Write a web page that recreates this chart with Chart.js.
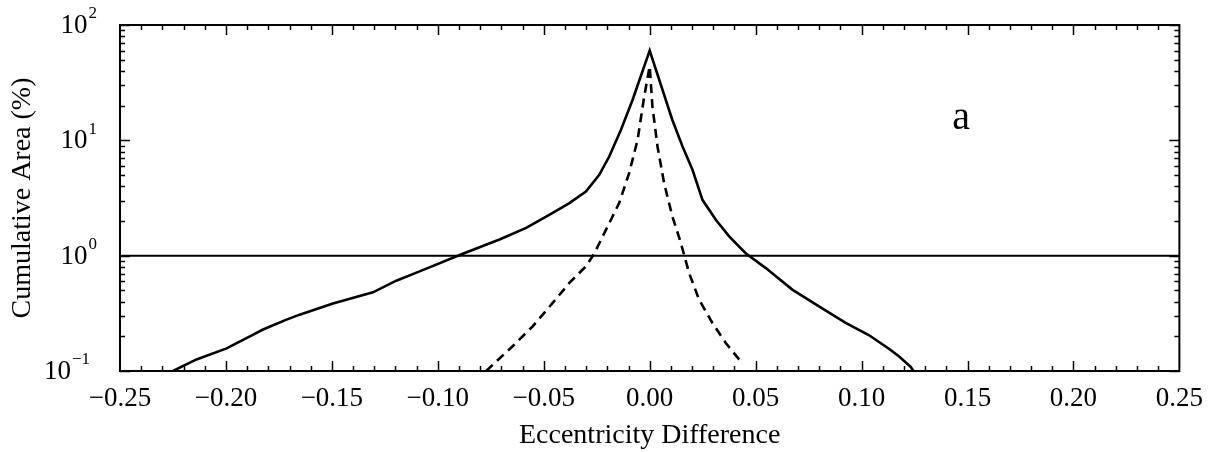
<!DOCTYPE html>
<html>
<head>
<meta charset="utf-8">
<script src="https://cdn.jsdelivr.net/npm/chart.js@4.4.1/dist/chart.umd.min.js"></script>
<style>
    html, body { margin: 0; padding: 0; background: #fff; }
    #box { width: 1215px; height: 452px; }
</style>
</head>
<body>
<div id="box"><canvas id="grafico"></canvas></div>
<script>
// #region Dados

// curva cheia
var eccSolid = [-0.2250, -0.2139, -0.1997, -0.1887, -0.1825, -0.1714, -0.1652, -0.1495, -0.1306, -0.1196, -0.1086,
    -0.0882, -0.0709, -0.0583, -0.0474, -0.0379, -0.0301, -0.0238, -0.0191, -0.0136, -0.0081, 0.0000,
    0.0107, 0.0155, 0.0202, 0.0249, 0.0312, 0.0375, 0.0453, 0.0548, 0.0673, 0.0799, 0.0925,
    0.1034, 0.1129, 0.1176, 0.1231, 0.1245];
var areaSolid = [0.100, 0.126, 0.157, 0.200, 0.229, 0.279, 0.308, 0.384, 0.481, 0.607, 0.731,
    1.04, 1.38, 1.74, 2.26, 2.86, 3.60, 5.03, 7.24, 12.3, 22.4, 60.0,
    15.0, 8.84, 5.55, 3.05, 2.05, 1.47, 1.05, 0.78, 0.508, 0.364, 0.261,
    0.205, 0.156, 0.134, 0.109, 0.100];

// curva tracejada
var eccDashed = [-0.0772, -0.0647, -0.0552, -0.0458, -0.0379, -0.0301, -0.0262, -0.0206, -0.0144, -0.0097, -0.0057, -0.0026, 0.0000,
    0.0013, 0.0037, 0.0068, 0.0107, 0.0147, 0.0186, 0.0233, 0.0296, 0.0359, 0.0422, 0.0440];
var areaDashed = [0.100, 0.164, 0.244, 0.389, 0.580, 0.809, 1.04, 1.68, 2.86, 5.20, 10.1, 23.9, 44.0,
    19.6, 8.84, 4.26, 2.19, 1.29, 0.708, 0.416, 0.261, 0.175, 0.126, 0.118];

// linha de referencia em 1%
var eccRef = [-0.25, 0.25];
var areaRef = [1, 1];

var yDecadas = [0.1, 1, 10, 100];
var yExpoentes = ['\u22121', '0', '1', '2'];

var rotuloPainel = 'a';
var rotuloPainelX = 0.147;
var rotuloPainelY = 15.6;

// #endregion Dados

var FONTE = '"Liberation Serif", "Times New Roman", serif';

function pares(xs, ys) {
    return xs.map(function (x, i) { return { x: x, y: ys[i] }; });
}

function formatarX(v) {
    var s = Math.abs(v).toFixed(2);
    return (v < -1e-9 ? '\u2212' : '') + s;
}

var pluginEixos = {
    id: 'eixos',
    beforeDraw: function (chart) {
        var ctx = chart.ctx;
        ctx.save();
        ctx.fillStyle = '#fff';
        ctx.fillRect(0, 0, chart.width, chart.height);
        ctx.restore();
    },
    afterDraw: function (chart) {
        var ctx = chart.ctx, a = chart.chartArea;
        var sx = chart.scales.x, sy = chart.scales.y;
        ctx.save();
        ctx.strokeStyle = '#000';

        // marcas do eixo x (para dentro, embaixo e em cima)
        ctx.lineWidth = 1.5;
        ctx.beginPath();
        for (var i = -24; i <= 24; i++) {
            var px = Math.round(sx.getPixelForValue(i / 100)) + 0.5;
            var len = (i % 5 === 0) ? 10 : 5;
            ctx.moveTo(px, a.bottom); ctx.lineTo(px, a.bottom - len);
            ctx.moveTo(px, a.top); ctx.lineTo(px, a.top + len);
        }
        // marcas do eixo y (log)
        for (var d = 0; d < yDecadas.length; d++) {
            for (var k = 1; k <= 9; k++) {
                var v = yDecadas[d] * k;
                if (v > 100.0001) break;
                var py = Math.round(sy.getPixelForValue(v)) + 0.5;
                var l = (k === 1) ? 10 : 5;
                ctx.moveTo(a.left, py); ctx.lineTo(a.left + l, py);
                ctx.moveTo(a.right, py); ctx.lineTo(a.right - l, py);
            }
        }
        ctx.stroke();

        // moldura
        ctx.lineWidth = 2;
        ctx.strokeRect(a.left, a.top, a.right - a.left, a.bottom - a.top);

        // rotulos do eixo y com expoente
        ctx.fillStyle = '#000';
        ctx.textBaseline = 'middle';
        for (var j = 0; j < yDecadas.length; j++) {
            var yy = sy.getPixelForValue(yDecadas[j]);
            ctx.font = '17px ' + FONTE;
            var ew = ctx.measureText(yExpoentes[j]).width;
            var xr = (j === 0) ? 90 : 97;
            ctx.textAlign = 'left';
            ctx.fillText(yExpoentes[j], xr - ew, yy - 11);
            ctx.font = '27px ' + FONTE;
            ctx.textAlign = 'right';
            ctx.fillText('10', xr - ew - 1, yy + 1);
        }

        // rotulo do painel
        ctx.font = '40px ' + FONTE;
        ctx.textAlign = 'center';
        ctx.fillText(rotuloPainel, sx.getPixelForValue(rotuloPainelX), sy.getPixelForValue(rotuloPainelY));
        ctx.restore();
    }
};

function loadGrafico() {
    var ctx = document.getElementById('grafico');
    return new Chart(ctx, {
        type: 'scatter',
        data: {
            datasets: [
                {
                    data: pares(eccRef, areaRef),
                    showLine: true, borderColor: '#000', borderWidth: 2,
                    pointRadius: 0, tension: 0
                },
                {
                    data: pares(eccSolid, areaSolid),
                    showLine: true, borderColor: '#000', borderWidth: 2.6,
                    pointRadius: 0, tension: 0
                },
                {
                    data: pares(eccDashed, areaDashed),
                    showLine: true, borderColor: '#000', borderWidth: 2.6,
                    borderDash: [9, 6], pointRadius: 0, tension: 0
                }
            ]
        },
        options: {
            responsive: true,
            maintainAspectRatio: false,
            animation: false,
            events: [],
            layout: { padding: { left: 0, right: 34, top: 25, bottom: 0 } },
            plugins: { legend: { display: false }, tooltip: { enabled: false } },
            scales: {
                x: {
                    type: 'linear', min: -0.25, max: 0.25,
                    grid: { display: false, drawTicks: false },
                    border: { display: false },
                    ticks: {
                        stepSize: 0.05, color: '#000', padding: 12, maxRotation: 0,
                        font: { family: FONTE, size: 27 },
                        callback: function (v) { return formatarX(v); }
                    },
                    title: {
                        display: true, text: 'Eccentricity Difference', color: '#000',
                        font: { family: FONTE, size: 28 }, padding: { top: 0, bottom: 0 }
                    },
                    afterFit: function (s) { s.height = 81; }
                },
                y: {
                    type: 'logarithmic', min: 0.1, max: 100,
                    grid: { display: false, drawTicks: false },
                    border: { display: false },
                    ticks: { display: false },
                    title: {
                        display: true, text: 'Cumulative Area (%)', color: '#000',
                        font: { family: FONTE, size: 28 }, padding: { top: 6, bottom: 0 }
                    },
                    afterFit: function (s) { s.width = 120; }
                }
            }
        },
        plugins: [pluginEixos]
    });
}

loadGrafico();
</script>
</body>
</html>
